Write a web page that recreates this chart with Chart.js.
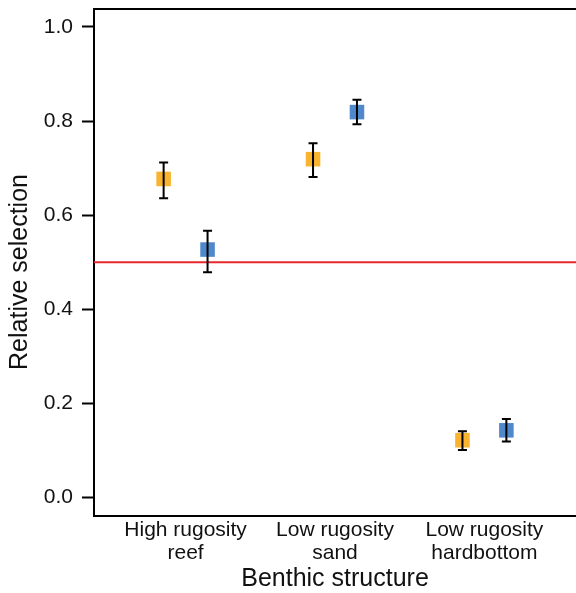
<!DOCTYPE html>
<html>
<head>
<meta charset="utf-8">
<script src="https://cdn.jsdelivr.net/npm/chart.js@4.4.1/dist/chart.umd.min.js"></script>
<style>
    html, body { margin: 0; padding: 0; background: #fff; }
    #wrap { width: 576px; height: 593px; }
</style>
</head>
<body>
<div id="wrap"><canvas id="chart"></canvas></div>
<script>
// data
const categories = [['High rugosity', 'reef'], ['Low rugosity', 'sand'], ['Low rugosity', 'hardbottom']];
const orangeMean = [0.677, 0.719, 0.122];
const orangeLow  = [0.636, 0.681, 0.101];
const orangeHigh = [0.712, 0.753, 0.141];
const blueMean = [0.527, 0.819, 0.143];
const blueLow  = [0.479, 0.793, 0.119];
const blueHigh = [0.567, 0.845, 0.167];
const yTicks = [0.0, 0.2, 0.4, 0.6, 0.8, 1.0];
const refValue = 0.5;

const ORANGE = '#F9B32F';
const BLUE = '#4F89CB';
const FONT = "'Liberation Sans', Arial, Helvetica, sans-serif";
const OFFSET = 0.147; // horizontal dodge of the two series inside a category

function toPoints(means, shift) {
    return means.map((v, i) => ({ x: i + 1 + shift, y: v }));
}

// red reference line at 0.5, under the markers
const refLine = {
    id: 'refLine',
    beforeDatasetsDraw(chart) {
        const { ctx, chartArea, scales } = chart;
        const y = scales.y.getPixelForValue(refValue);
        ctx.save();
        ctx.strokeStyle = '#E8272C';
        ctx.lineWidth = 2;
        ctx.beginPath();
        ctx.moveTo(chartArea.left, y);
        ctx.lineTo(chartArea.right, y);
        ctx.stroke();
        ctx.restore();
    }
};

// error bars on top of the squares
const errorBars = {
    id: 'errorBars',
    afterDatasetsDraw(chart) {
        const { ctx, scales } = chart;
        const sets = [[orangeLow, orangeHigh, -OFFSET], [blueLow, blueHigh, OFFSET]];
        ctx.save();
        ctx.strokeStyle = '#000';
        ctx.lineWidth = 2;
        sets.forEach(([lo, hi, shift]) => {
            lo.forEach((v, i) => {
                const x = scales.x.getPixelForValue(i + 1 + shift);
                const y1 = scales.y.getPixelForValue(v);
                const y2 = scales.y.getPixelForValue(hi[i]);
                ctx.beginPath();
                ctx.moveTo(x, y1); ctx.lineTo(x, y2);
                ctx.moveTo(x - 4.5, y1); ctx.lineTo(x + 4.5, y1);
                ctx.moveTo(x - 4.5, y2); ctx.lineTo(x + 4.5, y2);
                ctx.stroke();
            });
        });
        ctx.restore();
    }
};

// top edge of the frame and the y title (sits a bit below the plot middle)
const frameAndTitle = {
    id: 'frameAndTitle',
    afterDraw(chart) {
        const { ctx, chartArea } = chart;
        ctx.save();
        ctx.strokeStyle = '#000';
        ctx.lineWidth = 2;
        ctx.beginPath();
        ctx.moveTo(chartArea.left - 1, chartArea.top);
        ctx.lineTo(chartArea.right, chartArea.top);
        ctx.stroke();

        ctx.translate(20.5, 272);
        ctx.rotate(-Math.PI / 2);
        ctx.fillStyle = '#111';
        ctx.font = '25px ' + FONT;
        ctx.textAlign = 'center';
        ctx.textBaseline = 'middle';
        ctx.fillText('Relative selection', 0, 0);
        ctx.restore();
    }
};

new Chart(document.getElementById('chart'), {
    type: 'scatter',
    data: {
        datasets: [
            {
                label: 'orange',
                data: toPoints(orangeMean, -OFFSET),
                backgroundColor: ORANGE,
                pointStyle: 'rect',
                pointRadius: 10.3,
                pointHoverRadius: 10.3,
                borderWidth: 0
            },
            {
                label: 'blue',
                data: toPoints(blueMean, OFFSET),
                backgroundColor: BLUE,
                pointStyle: 'rect',
                pointRadius: 10.3,
                pointHoverRadius: 10.3,
                borderWidth: 0
            }
        ]
    },
    options: {
        responsive: true,
        maintainAspectRatio: false,
        animation: false,
        layout: { autoPadding: false, padding: { top: 9, right: 0, left: 0, bottom: 0 } },
        plugins: {
            legend: { display: false },
            tooltip: { enabled: false }
        },
        scales: {
            x: {
                type: 'linear',
                min: 0.387,
                max: 3.613,
                afterBuildTicks: s => { s.ticks = categories.map((c, i) => ({ value: i + 1 })); },
                afterFit: s => { s.height = 77; s.paddingLeft = 0; s.paddingRight = 0; },
                grid: { display: false, drawTicks: false },
                border: { display: true, color: '#000', width: 2 },
                ticks: {
                    padding: 3,
                    color: '#111',
                    maxRotation: 0,
                    autoSkip: false,
                    font: { family: FONT, size: 21, lineHeight: 1.1 },
                    callback: (v, i) => categories[i]
                },
                title: {
                    display: true,
                    text: 'Benthic structure',
                    color: '#111',
                    padding: 0,
                    font: { family: FONT, size: 25, lineHeight: 1.1 }
                }
            },
            y: {
                min: -0.039,
                max: 1.038,
                afterBuildTicks: s => { s.ticks = yTicks.map(v => ({ value: v })); },
                afterFit: s => { s.width = 94; s.paddingTop = 0; s.paddingBottom = 0; },
                grid: {
                    display: true,
                    drawOnChartArea: false,
                    tickLength: 12,
                    tickWidth: 2,
                    tickColor: '#000'
                },
                border: { display: true, color: '#000', width: 2 },
                ticks: {
                    padding: 9,
                    color: '#111',
                    font: { family: FONT, size: 21 },
                    callback: v => v.toFixed(1)
                }
            }
        }
    },
    plugins: [refLine, errorBars, frameAndTitle]
});
</script>
</body>
</html>
